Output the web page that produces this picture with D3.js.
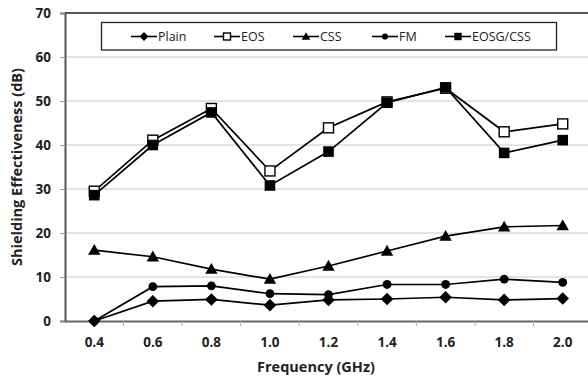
<!DOCTYPE html>
<html><head><meta charset="utf-8">
<script src="https://cdn.jsdelivr.net/npm/d3@7"></script>
<style>
html,body{margin:0;padding:0;background:#fff;}
svg{display:block;}
</style></head>
<body>
<svg id="chart" width="588" height="380"></svg>
<script>
const categories = ["0.4","0.6","0.8","1.0","1.2","1.4","1.6","1.8","2.0"];
const plain  = [0, 4.5, 4.9, 3.6, 4.8, 5.0, 5.4, 4.8, 5.1];
const eos    = [29.5, 41.1, 48.3, 34.1, 43.9, 49.8, 52.9, 43.0, 44.8];
const css    = [16.1, 14.6, 11.8, 9.5, 12.5, 15.9, 19.3, 21.4, 21.7];
const fm     = [0, 7.8, 8.0, 6.2, 6.0, 8.3, 8.3, 9.5, 8.8];
const eosg   = [28.6, 40.0, 47.4, 30.8, 38.5, 49.6, 53.1, 38.2, 41.1];
const yTicks = [0,10,20,30,40,50,60,70];
const seriesNames = ["Plain","EOS","CSS","FM","EOSG/CSS"];
const seriesValues = [plain, eos, css, fm, eosg];
const seriesMarkers = ["diamond","squareOpen","triangle","circle","square"];

const svg = d3.select("#chart");
const L = 65, R = 592, T = 13, B = 321;
const x = d3.scaleBand().domain(categories).range([L, R]);
const y = d3.scaleLinear().domain([0, 70]).range([B, T]);
const font = "'Open Sans', 'Noto Sans', sans-serif";

// gridlines
svg.append("g").selectAll("line").data(yTicks.filter(d => d > 0 && d < 70)).join("line")
  .attr("x1", L).attr("x2", R).attr("y1", d => y(d)).attr("y2", d => y(d))
  .attr("stroke", "#c8c8c8").attr("stroke-width", 1);
// top border
svg.append("line").attr("x1", L).attr("x2", R).attr("y1", y(70)).attr("y2", y(70))
  .attr("stroke", "#222").attr("stroke-width", 1.5);

// y axis
const yAxis = svg.append("g").attr("transform", `translate(${L},0)`)
  .call(d3.axisLeft(y).tickValues(yTicks).tickSize(5).tickPadding(9).tickFormat(d3.format("d")));
yAxis.select(".domain").attr("stroke", "#555").attr("stroke-width", 2);
yAxis.selectAll(".tick line").attr("stroke", "#999");
yAxis.selectAll("text").attr("font-family", font).attr("font-size", 13.5).attr("font-weight", "bold").attr("fill", "#222");

// x axis
const xAxis = svg.append("g").attr("transform", `translate(0,${B})`)
  .call(d3.axisBottom(x).tickSize(0).tickPadding(16));
xAxis.select(".domain").attr("stroke", "#666").attr("stroke-width", 2);
xAxis.selectAll("text").attr("font-family", font).attr("font-size", 13.5).attr("font-weight", "bold").attr("fill", "#222");
const edges = categories.map(c => x(c)).concat([x(categories[categories.length-1]) + x.bandwidth()]);
xAxis.append("g").selectAll("line").data(edges.slice(1)).join("line")
  .attr("x1", d => d).attr("x2", d => d).attr("y1", 0).attr("y2", 5)
  .attr("stroke", "#aaa").attr("stroke-width", 1);

// axis titles
svg.append("text").attr("x", 316).attr("y", 372).attr("text-anchor", "middle")
  .attr("font-family", font).attr("font-size", 14.5).attr("font-weight", "bold").attr("fill", "#222")
  .text("Frequency (GHz)");
svg.append("text").attr("transform", `translate(22,${(T+B)/2}) rotate(-90)`).attr("text-anchor", "middle")
  .attr("font-family", font).attr("font-size", 14.5).attr("font-weight", "bold").attr("fill", "#222")
  .text("Shielding Effectiveness (dB)");

function drawMarker(g, type, cx, cy, scale) {
  const s = scale || 1;
  if (type === "diamond") {
    const r = 6.3 * s;
    g.append("path").attr("d", `M${cx},${cy-r}L${cx+r},${cy}L${cx},${cy+r}L${cx-r},${cy}Z`).attr("fill", "#000");
  } else if (type === "squareOpen") {
    const h = 5 * s;
    g.append("rect").attr("x", cx-h).attr("y", cy-h).attr("width", 2*h).attr("height", 2*h)
      .attr("fill", "#fff").attr("stroke", "#000").attr("stroke-width", 1.4);
  } else if (type === "square") {
    const h = 5.3 * s;
    g.append("rect").attr("x", cx-h).attr("y", cy-h).attr("width", 2*h).attr("height", 2*h).attr("fill", "#000");
  } else if (type === "triangle") {
    const r = 6.2 * s;
    g.append("path").attr("d", `M${cx},${cy-r}L${cx+r},${cy+r*0.75}L${cx-r},${cy+r*0.75}Z`).attr("fill", "#000");
  } else if (type === "circle") {
    g.append("circle").attr("cx", cx).attr("cy", cy).attr("r", 4.4 * s).attr("fill", "#000");
  }
}

const line = d3.line().x((d, i) => x(categories[i]) + x.bandwidth()/2).y(d => y(d));
const plotG = svg.append("g");
seriesValues.forEach((vals, si) => {
  plotG.append("path").datum(vals).attr("d", line).attr("fill", "none")
    .attr("stroke", "#000").attr("stroke-width", 1.7);
});
seriesValues.forEach((vals, si) => {
  vals.forEach((v, i) => drawMarker(plotG, seriesMarkers[si], x(categories[i]) + x.bandwidth()/2, y(v)));
});

// legend
const lg = svg.append("g");
lg.append("rect").attr("x", 101.5).attr("y", 22.5).attr("width", 455).attr("height", 27.5)
  .attr("fill", "#fff").attr("stroke", "#222").attr("stroke-width", 1.3);
const legendX = [131, 214, 293, 372, 445];
seriesNames.forEach((name, i) => {
  const lx = legendX[i], ly = 36.5;
  lg.append("line").attr("x1", lx).attr("x2", lx + 26).attr("y1", ly).attr("y2", ly)
    .attr("stroke", "#000").attr("stroke-width", 1.6);
  drawMarker(lg, seriesMarkers[i], lx + 13, ly, 0.7);
  lg.append("text").attr("x", lx + 27).attr("y", ly + 4.5)
    .attr("font-family", font).attr("font-size", 12.5).attr("fill", "#222").text(name);
});
</script>
</body></html>
